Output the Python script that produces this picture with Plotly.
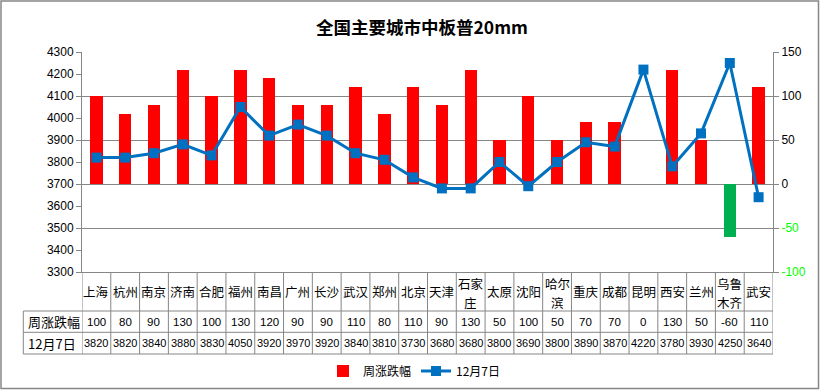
import plotly.graph_objects as go

cities = ["上海", "杭州", "南京", "济南", "合肥", "福州", "南昌", "广州", "长沙", "武汉", "郑州", "北京",
          "天津", "石家<br>庄", "太原", "沈阳", "哈尔<br>滨", "重庆", "成都", "昆明", "西安", "兰州",
          "乌鲁<br>木齐", "武安"]
weekly_change = [100, 80, 90, 130, 100, 130, 120, 90, 90, 110, 80, 110, 90, 130, 50, 100, 50, 70, 70, 0,
                 130, 50, -60, 110]
price_dec7 = [3820, 3820, 3840, 3880, 3830, 4050, 3920, 3970, 3920, 3840, 3810, 3730, 3680, 3680, 3800,
              3690, 3800, 3890, 3870, 4220, 3780, 3930, 4250, 3640]
right_ticks = [150, 100, 50, 0, -50, -100]
left_ticks = [4300, 4200, 4100, 4000, 3900, 3800, 3700, 3600, 3500, 3400, 3300]

RED = "#FF0000"
GREEN = "#00B050"
BLUE = "#0070C0"
GRID = "#868686"
CJK = "Noto Sans CJK SC"
NUM = "Liberation Sans"

W, H = 820, 390
L, R, T, B = 82, 47, 52, 118
PW, PH = W - L - R, H - T - B


def px_x(px):
    return (px - L) / PW


def px_y(py):
    return (H - B - py) / PH


n = len(cities)
xs = list(range(n))

fig = go.Figure()
fig.add_trace(go.Bar(
    x=xs, y=weekly_change, name="周涨跌幅", width=0.43,
    marker=dict(color=[RED if v >= 0 else GREEN for v in weekly_change], line=dict(width=0)),
    yaxis="y",
))
fig.add_trace(go.Scatter(
    x=xs, y=price_dec7, name="12月7日", mode="lines+markers",
    line=dict(color=BLUE, width=3), marker=dict(symbol="square", size=10, color=BLUE),
    yaxis="y2",
))

fig.update_layout(
    width=W, height=H,
    margin=dict(l=L, r=R, t=T, b=B, autoexpand=False),
    paper_bgcolor="white", plot_bgcolor="white",
    title=dict(text="<b>全国主要城市中板普20mm</b>", x=422 / W, xanchor="center",
               y=1 - 28 / H, yanchor="middle", yref="container",
               font=dict(family=CJK, size=17.5, color="black")),
    font=dict(family=NUM, size=12, color="black"),
    bargap=0,
    showlegend=True,
    legend=dict(orientation="h", x=px_x(414), xanchor="center", y=px_y(371), yanchor="middle",
                font=dict(family=CJK, size=12, color="black"), bgcolor="rgba(0,0,0,0)",
                itemwidth=30, tracegroupgap=0),
    xaxis=dict(range=[-0.5, n - 0.5], showticklabels=False, showgrid=False, zeroline=False,
               showline=True, linecolor=GRID, linewidth=1, ticks=""),
    yaxis=dict(range=[-100, 150], side="right", tickvals=right_ticks,
               ticktext=[str(v) if v >= 0 else f"<span style='color:#00FF00'>-{abs(v)}</span>"
                         for v in right_ticks],
               showgrid=True, gridcolor=GRID, gridwidth=1, zeroline=False,
               showline=True, linecolor=GRID, linewidth=1, ticks="outside", ticklen=5,
               tickcolor=GRID, tickfont=dict(family=NUM, size=12)),
    yaxis2=dict(range=[3300, 4300], overlaying="y", side="left", tickvals=left_ticks,
                showgrid=False, zeroline=False, showline=True, linecolor=GRID, linewidth=1,
                ticks="outside", ticklen=5, tickcolor=GRID, tickfont=dict(family=NUM, size=12)),
)

shapes = []
line_style = dict(color=GRID, width=1)
y_top = 0
y_r1 = px_y(311)
y_r2 = px_y(332.3)
y_r3 = px_y(354)
x_head = px_x(23.3)

for yy in (y_r1, y_r2, y_r3):
    shapes.append(dict(type="line", xref="paper", yref="paper", x0=x_head, x1=1, y0=yy, y1=yy, line=line_style))
for i in range(n + 1):
    shapes.append(dict(type="line", xref="x", yref="paper", x0=i - 0.5, x1=i - 0.5, y0=y_top, y1=y_r3,
                       line=line_style))
shapes.append(dict(type="line", xref="paper", yref="paper", x0=x_head, x1=x_head, y0=y_r1, y1=y_r3,
                   line=line_style))
shapes.append(dict(type="rect", xref="paper", yref="paper", x0=px_x(1), x1=px_x(818.5), y0=px_y(388.5),
                   y1=px_y(1), line=dict(color=GRID, width=1.5), fillcolor="rgba(0,0,0,0)", layer="below"))
fig.update_layout(shapes=shapes)

ann = []
cy1 = (y_top + y_r1) / 2
cy2 = (y_r1 + y_r2) / 2
cy3 = (y_r2 + y_r3) / 2
for i, c in enumerate(cities):
    parts = c.split("<br>")
    if len(parts) == 1:
        ann.append(dict(x=i, y=cy1, xref="x", yref="paper", text=c, showarrow=False,
                        font=dict(family=CJK, size=12.5, color="black"), xanchor="center", yanchor="middle"))
    else:
        for part, py in zip(parts, (283, 301.5)):
            ann.append(dict(x=i, y=px_y(py), xref="x", yref="paper", text=part, showarrow=False,
                            font=dict(family=CJK, size=12.5, color="black"), xanchor="center",
                            yanchor="middle", height=16))
    ann.append(dict(x=i, y=cy2, xref="x", yref="paper", text=str(weekly_change[i]), showarrow=False,
                    font=dict(family=NUM, size=11.5, color="black"), xanchor="center", yanchor="middle"))
    ann.append(dict(x=i, y=cy3, xref="x", yref="paper", text=str(price_dec7[i]), showarrow=False,
                    font=dict(family=NUM, size=11, color="black"), xanchor="center", yanchor="middle"))
ann.append(dict(x=px_x(26), y=cy2, xref="paper", yref="paper", text="周涨跌幅", showarrow=False,
                font=dict(family=CJK, size=13, color="black"), xanchor="left", yanchor="middle"))
ann.append(dict(x=px_x(26), y=cy3, xref="paper", yref="paper", text="12月7日", showarrow=False,
                font=dict(family=CJK, size=13, color="black"), xanchor="left", yanchor="middle"))
fig.update_layout(annotations=ann)

fig.write_html("out.html", config={"displayModeBar": False},
               post_script="document.body.style.margin='0';document.body.style.padding='0';")
